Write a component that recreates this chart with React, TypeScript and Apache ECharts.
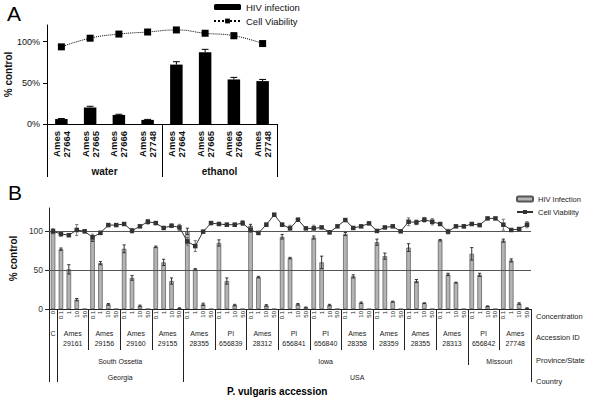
import React, { useEffect, useRef } from 'react';
import * as echarts from 'echarts';

// ---------- Panel A data ----------
const aAccessions = ['Ames\n27664', 'Ames\n27665', 'Ames\n27666', 'Ames\n27748', 'Ames\n27664', 'Ames\n27665', 'Ames\n27666', 'Ames\n27748'];
const aSolvents = ['water', 'ethanol'];
const aSolventSpans = [4, 4];
const aHiv = [6, 20, 11, 5, 72, 87, 54, 52];
const aHivErr = [0.6, 1.5, 0.8, 0.6, 3.5, 3.5, 2.5, 2];
const aViability = [93.5, 104, 109, 111.5, 114, 110, 107, 97.5];
const aViabilityErr = [1.2, 1.5, 1.2, 1.2, 1, 1, 3.5, 1.5];
const aTicks = [0, 50, 100];

// ---------- Panel B data ----------
const bConcentrations = [
  '0',
  '0.1', '1', '10', '50', '0.1', '1', '10', '50', '0.1', '1', '10', '50', '0.1', '1', '10', '50',
  '0.1', '1', '10', '50', '0.1', '1', '10', '50', '0.1', '1', '10', '50', '0.1', '1', '10', '50',
  '0.1', '1', '10', '50', '0.1', '1', '10', '50', '0.1', '1', '10', '50', '0.1', '1', '10', '50',
  '0.1', '1', '10', '50', '0.1', '1', '10', '50', '0.1', '1', '10', '50',
];
const bAccessions = ['C', 'Ames\n29161', 'Ames\n29156', 'Ames\n29160', 'Ames\n29155', 'Ames\n28355', 'PI\n656839', 'Ames\n28312', 'PI\n656841', 'PI\n656840', 'Ames\n28358', 'Ames\n28359', 'Ames\n28355', 'Ames\n28313', 'PI\n656842', 'Ames\n27748'];
const bAccessionSpans = [1, 4, 4, 4, 4, 4, 4, 4, 4, 4, 4, 4, 4, 4, 4, 4];
const bProvinces = ['', 'South Ossetia', 'Iowa', 'Missouri'];
const bProvinceSpans = [1, 16, 36, 8];
const bCountries = ['', 'Georgia', 'USA'];
const bCountrySpans = [1, 16, 44];
const bRowTitles = ['Concentration', 'Accession ID', 'Province/State', 'Country'];
const bHiv = [
  100,
  77, 51, 12, 0, 90, 59, 6, 0, 77.5, 40, 4, 0, 80, 60, 36, 1,
  100, 51, 6, 0, 85, 36, 5, 0, 107, 41, 4.5, 0, 93, 65.5, 6, 2,
  92, 60, 5, 0, 96.5, 42, 8, 0, 86, 68, 9.5, 0, 79, 36, 7.5, 0,
  88.5, 44.5, 34, 0, 71, 44, 3.5, 0, 88, 62.5, 7, 1,
];
const bHivErr = [
  3,
  1.5, 6, 1.5, 0, 3, 2, 1, 0, 5, 3, 1, 0, 1, 4, 4, 0.5,
  4, 1, 1.5, 0, 4, 4, 1, 0, 2, 1, 1, 0, 3, 1, 1, 0.5,
  2, 8, 1, 0, 2, 2, 1, 0, 4, 4, 0.5, 0, 5, 2, 0.5, 0,
  1, 1.5, 0.5, 0, 8, 2, 0.5, 0, 2, 2, 1, 0.5,
];
const bViability = [
  100,
  96.6, 95, 101.7, 100, 92.3, 98, 108, 108, 109.4, 100.8, 106.4, 112.3, 110.6, 104.3, 107.2, 105,
  87, 81, 99.6, 110.6, 109.4, 108.5, 108.5, 110.6, 101.7, 97.9, 108.5, 121.3, 108.5, 103.8, 114.9, 103.8,
  103.8, 105, 98.7, 106.4, 114.5, 104.3, 106.4, 110.2, 100.5, 105, 106.4, 100, 112.3, 111.5, 114.9, 112.3,
  109.4, 99.6, 106.4, 106.4, 109.4, 108, 116.6, 116.6, 108.5, 101.7, 103, 108.5,
];
const bViabilityErr = [
  3,
  3, 1, 7, 2, 4, 2, 1, 1, 1, 3, 1, 3, 1, 1, 2, 4,
  5, 7, 1, 1, 1, 2, 2, 3, 3, 1, 2, 2, 2, 4, 2, 1,
  4, 1, 2, 1, 1, 1, 1, 1, 1, 1, 1, 1, 5, 3, 3, 4,
  1, 3, 1, 2, 1, 1, 1, 1, 7, 1, 1, 4,
];
const bTicks = [0, 50, 100];
const bRefLines = [50, 100];

const FONT = '"Liberation Sans", Arial, sans-serif';

function cumulative(spans: number[]) {
  const out = [0];
  spans.forEach((s) => out.push(out[out.length - 1] + s));
  return out;
}
function midpoints(spans: number[]) {
  const b = cumulative(spans);
  return spans.map((s, i) => b[i] + s / 2);
}

function errorRender(capRatio: number, color: string, upOnly: boolean) {
  return (params: any, api: any) => {
    const x = api.value(0);
    const y = api.value(1);
    const e = api.value(2);
    if (!e) return null;
    const top = api.coord([x, y + e]);
    const bot = api.coord([x, upOnly ? y : y - e]);
    const half = Math.max(1.5, api.size([1, 0])[0] * capRatio);
    const style = { stroke: color, lineWidth: 1 };
    const children: any[] = [
      { type: 'line', shape: { x1: top[0], y1: top[1], x2: bot[0], y2: bot[1] }, style },
      { type: 'line', shape: { x1: top[0] - half, y1: top[1], x2: top[0] + half, y2: top[1] }, style },
    ];
    if (!upOnly) children.push({ type: 'line', shape: { x1: bot[0] - half, y1: bot[1], x2: bot[0] + half, y2: bot[1] }, style });
    return { type: 'group', children };
  };
}

export default function App() {
  const ref = useRef<HTMLDivElement>(null);
  useEffect(() => {
    if (!ref.current) return;
    const chart = echarts.init(ref.current, null, { renderer: 'svg' });

    const aBounds = cumulative(aSolventSpans);
    const aMids = midpoints(aSolventSpans);
    const accBounds = cumulative(bAccessionSpans);
    const accMids = midpoints(bAccessionSpans);
    const provBounds = cumulative(bProvinceSpans);
    const provMids = midpoints(bProvinceSpans);
    const ctryBounds = cumulative(bCountrySpans);
    const ctryMids = midpoints(bCountrySpans);
    const nB = bConcentrations.length;

    const lookup = (mids: number[], labels: string[]) => (v: number) => {
      const i = mids.findIndex((m) => Math.abs(m - v) < 1e-6);
      return i >= 0 ? labels[i] : '';
    };

    const baseText = { fontFamily: FONT, color: '#111' };

    const option: any = {
      animation: false,
      backgroundColor: '#fff',
      textStyle: { fontFamily: FONT },
      grid: [
        { left: 47, top: 25, width: 230, height: 99 },
        { left: 49, top: 208, width: 482, height: 101 },
      ],
      legend: [
        {
          data: ['HIV infection', 'Cell Viability'],
          orient: 'vertical', left: 213, top: 2, padding: 0, itemGap: 4,
          itemWidth: 27, itemHeight: 6,
          textStyle: { ...baseText, fontSize: 9.5 },
        },
        {
          data: ['HIV Infection', 'Cell Viability '],
          orient: 'vertical', left: 516, top: 195, padding: 0, itemGap: 5,
          itemWidth: 16, itemHeight: 5,
          textStyle: { ...baseText, fontSize: 7.5, color: '#222' },
        },
      ],
      xAxis: [
        {
          gridIndex: 0, type: 'category', data: aAccessions,
          axisLine: { lineStyle: { color: '#000', width: 1 } },
          axisTick: { interval: 0, length: 33, lineStyle: { color: '#000' } },
          axisLabel: { interval: 0, rotate: 90, margin: 7, fontSize: 9.5, fontWeight: 'bold', lineHeight: 10, ...baseText },
        },
        {
          gridIndex: 0, type: 'value', min: 0, max: aBounds[aBounds.length - 1], position: 'bottom',
          axisLine: { show: false },
          splitLine: { show: false },
          axisTick: { show: true, customValues: aBounds, length: 53, lineStyle: { color: '#000' } },
          axisLabel: { customValues: aMids, formatter: lookup(aMids, aSolvents), margin: 42, fontSize: 10, fontWeight: 'bold', ...baseText },
        },
        {
          gridIndex: 1, type: 'category', data: bConcentrations,
          axisLine: { onZero: false, lineStyle: { color: '#222', width: 1 } },
          axisTick: { interval: 0, length: 13, lineStyle: { color: '#222' } },
          axisLabel: { interval: 0, rotate: 90, margin: 2, fontSize: 6, ...baseText, color: '#222' },
        },
        {
          gridIndex: 1, type: 'value', min: 0, max: nB, position: 'bottom',
          axisLine: { show: false }, splitLine: { show: false },
          axisTick: { show: true, customValues: accBounds, length: 41, lineStyle: { color: '#222' } },
          axisLabel: { customValues: accMids, formatter: lookup(accMids, bAccessions), margin: 19, fontSize: 7, lineHeight: 10.5, ...baseText, color: '#222' },
        },
        {
          gridIndex: 1, type: 'value', min: 0, max: nB, position: 'bottom',
          axisLine: { show: false }, splitLine: { show: false },
          axisTick: { show: true, customValues: provBounds.slice(1), length: 56, lineStyle: { color: '#222' } },
          axisLabel: { customValues: provMids, formatter: lookup(provMids, bProvinces), margin: 49, fontSize: 7, ...baseText, color: '#222' },
        },
        {
          gridIndex: 1, type: 'value', min: 0, max: nB, position: 'bottom',
          axisLine: { show: false }, splitLine: { show: false },
          axisTick: { show: true, customValues: ctryBounds, length: 73, lineStyle: { color: '#222' } },
          axisLabel: { customValues: ctryMids, formatter: lookup(ctryMids, bCountries), margin: 65, fontSize: 7, ...baseText, color: '#222' },
        },
      ],
      yAxis: [
        {
          gridIndex: 0, type: 'value', min: 0, max: 120,
          axisLine: { show: true, onZero: false, lineStyle: { color: '#000' } },
          axisTick: { show: true, customValues: aTicks, length: 4, lineStyle: { color: '#000' } },
          axisLabel: { customValues: aTicks, formatter: '{value}%', margin: 7, fontSize: 9, ...baseText },
          splitLine: { show: false },
          name: '% control', nameLocation: 'middle', nameGap: 30,
          nameTextStyle: { ...baseText, fontSize: 10, fontWeight: 'bold' },
        },
        {
          gridIndex: 1, type: 'value', min: 0, max: 130,
          axisLine: { show: true, onZero: false, lineStyle: { color: '#222' } },
          axisTick: { show: true, customValues: bTicks, length: 4, lineStyle: { color: '#222' } },
          axisLabel: { customValues: bTicks, margin: 6, fontSize: 8.5, ...baseText, color: '#333' },
          splitLine: { show: false },
          name: '% control', nameLocation: 'middle', nameGap: 22,
          nameTextStyle: { ...baseText, fontSize: 10, fontWeight: 'bold' },
        },
      ],
      series: [
        {
          name: 'HIV infection', type: 'bar', xAxisIndex: 0, yAxisIndex: 0,
          data: aHiv, barWidth: 12.5, itemStyle: { color: '#000' },
        },
        {
          type: 'custom', xAxisIndex: 0, yAxisIndex: 0, z: 5,
          renderItem: errorRender(0.12, '#000', true),
          data: aHiv.map((v, i) => [i, v, aHivErr[i]]),
          encode: { x: 0, y: 1 },
        },
        {
          name: 'Cell Viability', type: 'line', xAxisIndex: 0, yAxisIndex: 0,
          data: aViability, smooth: true, symbol: 'rect', symbolSize: 7,
          lineStyle: { color: '#000', width: 1, type: 'dotted' },
          itemStyle: { color: '#000' }, z: 6,
        },
        {
          type: 'custom', xAxisIndex: 0, yAxisIndex: 0, z: 5,
          renderItem: errorRender(0.1, '#666', false),
          data: aViability.map((v, i) => [i, v, aViabilityErr[i]]),
          encode: { x: 0, y: 1 },
        },
        {
          name: 'HIV Infection', type: 'bar', xAxisIndex: 2, yAxisIndex: 1,
          data: bHiv, barWidth: 4.5,
          itemStyle: { color: '#b4b4b4', borderColor: '#555', borderWidth: 0.7 },
          markLine: {
            silent: true, symbol: ['none', 'none'], label: { show: false },
            lineStyle: { color: '#555', width: 1, type: 'solid' },
            data: bRefLines.map((v) => ({ yAxis: v })),
          },
        },
        {
          type: 'custom', xAxisIndex: 2, yAxisIndex: 1, z: 5,
          renderItem: errorRender(0.2, '#333', false),
          data: bHiv.map((v, i) => [i, v, bHivErr[i]]),
          encode: { x: 0, y: 1 },
        },
        {
          type: 'custom', xAxisIndex: 2, yAxisIndex: 1, z: 5,
          renderItem: errorRender(0.2, '#777', false),
          data: bViability.map((v, i) => [i, v, bViabilityErr[i]]),
          encode: { x: 0, y: 1 },
        },
        {
          name: 'Cell Viability ', type: 'line', xAxisIndex: 2, yAxisIndex: 1,
          data: bViability, symbol: 'rect', symbolSize: 4.5,
          lineStyle: { color: '#333', width: 1 },
          itemStyle: { color: '#333' }, z: 6,
        },
      ],
      graphic: [
        { type: 'text', left: 7, top: 3, style: { text: 'A', fontSize: 21, fontFamily: FONT, fill: '#000' } },
        { type: 'text', left: 8, top: 182, style: { text: 'B', fontSize: 21, fontFamily: FONT, fill: '#000' } },
        { type: 'text', left: 227, top: 386, style: { text: 'P. vulgaris accession', fontSize: 10, fontWeight: 'bold', fontFamily: FONT, fill: '#000' } },
        ...bRowTitles.map((t, i) => ({
          type: 'text', left: 536, top: [312, 333, 356, 377][i],
          style: { text: t, fontSize: 7.5, fontFamily: FONT, fill: '#222' },
        })),
      ],
    };
    chart.setOption(option);
    return () => chart.dispose();
  }, []);
  return <div ref={ref} style={{ position: 'fixed', left: 0, top: 0, width: 600, height: 409 }} />;
}
